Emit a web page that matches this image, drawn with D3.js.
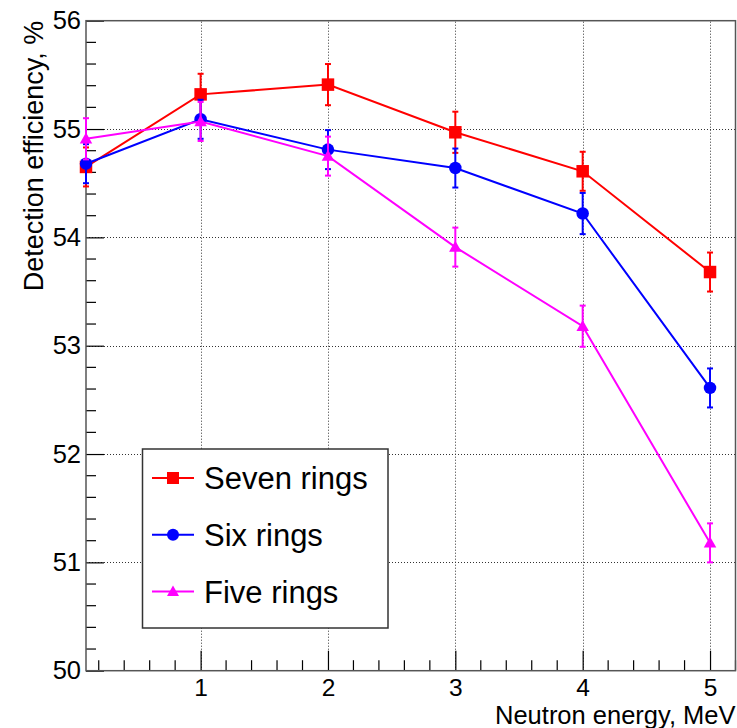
<!DOCTYPE html>
<html>
<head>
<meta charset="utf-8">
<script src="https://cdn.jsdelivr.net/npm/d3@7"></script>
<style>
  body { margin: 0; background: #fff; }
  svg { display: block; font-family: "Liberation Sans", Arial, sans-serif; }
</style>
</head>
<body>
<div id="chart"></div>
<script>
// neutron energies (MeV), first point sits at the left edge of the frame
const energies = [0.1, 1, 2, 3, 4, 5];

// detection efficiency, %
const sevenRings = [54.65, 55.32, 55.41, 54.97, 54.61, 53.68];
const sixRings = [54.68, 55.09, 54.81, 54.64, 54.22, 52.61];
const fiveRings = [54.91, 55.07, 54.75, 53.91, 53.18, 51.18];

// statistical errors
const sevenErr = [0.18, 0.19, 0.19, 0.19, 0.18, 0.18];
const sixErr = [0.18, 0.18, 0.18, 0.18, 0.19, 0.18];
const fiveErr = [0.19, 0.18, 0.18, 0.18, 0.19, 0.18];

const xTicks = [1, 2, 3, 4, 5];
const yTicks = [50, 51, 52, 53, 54, 55, 56];

const seriesNames = ['Seven rings', 'Six rings', 'Five rings'];
const seriesColors = ['#ff0000', '#0000ff', '#ff00ff'];
const seriesMarkers = ['square', 'circle', 'triangle'];

function drawChart(width, height) {
    const marginLeft = 86, marginRight = 1.5, marginTop = 20.7, marginBottom = 57.3;
    const x0 = marginLeft, x1 = width - marginRight;
    const y0 = height - marginBottom, y1 = marginTop;

    const xScale = d3.scaleLinear().domain([0.1, 5.2]).range([x0, x1]);
    const yScale = d3.scaleLinear().domain([50, 56]).range([y0, y1]);

    const svg = d3.select('#chart').append('svg')
        .attr('width', width)
        .attr('height', height)
        .attr('viewBox', [0, 0, width, height]);

    // dotted grid at the major ticks
    const grid = svg.append('g')
        .attr('stroke', '#333')
        .attr('stroke-width', 1)
        .attr('stroke-dasharray', '1,2');
    grid.selectAll('.gx').data(xTicks).join('line')
        .attr('x1', d => Math.round(xScale(d)) + 0.5).attr('x2', d => Math.round(xScale(d)) + 0.5)
        .attr('y1', y0).attr('y2', y1);
    grid.selectAll('.gy').data(yTicks.slice(1, -1)).join('line')
        .attr('class', 'gy')
        .attr('x1', x0).attr('x2', x1)
        .attr('y1', d => Math.round(yScale(d)) + 0.5).attr('y2', d => Math.round(yScale(d)) + 0.5);

    // x axis: major + minor ticks, labels
    const xMinor = d3.range(2, 53, 2).map(v => v / 10).filter(v => !xTicks.includes(v));
    const xAxis = d3.axisBottom(xScale).tickValues(xTicks).tickSize(-20).tickPadding(8).tickFormat(d3.format('d'));
    svg.append('g')
        .attr('transform', `translate(0,${y0})`)
        .call(xAxis)
        .call(g => g.select('.domain').remove())
        .call(g => g.selectAll('.tick line').attr('stroke', '#000').attr('stroke-width', 1.2))
        .call(g => g.selectAll('.tick text').attr('font-size', 24.5).attr('font-family', 'Liberation Sans').attr('fill', '#000'));
    svg.append('g')
        .selectAll('line').data(xMinor).join('line')
        .attr('x1', d => xScale(d)).attr('x2', d => xScale(d))
        .attr('y1', y0).attr('y2', y0 - 10.5)
        .attr('stroke', '#000').attr('stroke-width', 1.2);

    // y axis
    const yMinor = d3.range(500, 561, 2).map(v => v / 10).filter(v => !yTicks.includes(v));
    const yAxis = d3.axisLeft(yScale).tickValues(yTicks).tickSize(-18).tickFormat(d3.format('d'));
    svg.append('g')
        .attr('transform', `translate(${x0},0)`)
        .call(yAxis)
        .call(g => g.select('.domain').remove())
        .call(g => g.selectAll('.tick line').attr('stroke', '#000').attr('stroke-width', 1.2))
        .call(g => g.selectAll('.tick text')
            .attr('x', -5)
            .attr('font-size', 25.5).attr('font-family', 'Liberation Sans').attr('fill', '#000'));
    svg.append('g')
        .selectAll('line').data(yMinor).join('line')
        .attr('x1', x0).attr('x2', x0 + 10)
        .attr('y1', d => yScale(d)).attr('y2', d => yScale(d))
        .attr('stroke', '#000').attr('stroke-width', 1.2);

    // frame
    svg.append('rect')
        .attr('x', x0).attr('y', y1)
        .attr('width', x1 - x0).attr('height', y0 - y1)
        .attr('fill', 'none').attr('stroke', '#555').attr('stroke-width', 1.5);

    // axis titles
    svg.append('text')
        .attr('x', x1).attr('y', 724)
        .attr('text-anchor', 'end')
        .attr('font-size', 25.5)
        .text('Neutron energy, MeV');
    svg.append('text')
        .attr('transform', `translate(43,${y1}) rotate(-90)`)
        .attr('text-anchor', 'end')
        .attr('font-size', 27)
        .text('Detection efficiency, %');

    // series
    const allValues = [sevenRings, sixRings, fiveRings];
    const allErrors = [sevenErr, sixErr, fiveErr];
    const line = d3.line().x(d => xScale(d.x)).y(d => yScale(d.y));

    allValues.forEach((values, s) => {
        const pts = energies.map((e, i) => ({ x: e, y: values[i], err: allErrors[s][i] }));
        const color = seriesColors[s];
        const g = svg.append('g');

        g.append('path')
            .datum(pts)
            .attr('fill', 'none')
            .attr('stroke', color)
            .attr('stroke-width', 2)
            .attr('d', line);

        // error bars with small caps
        const eb = g.append('g').attr('stroke', color).attr('stroke-width', 2);
        eb.selectAll('.bar').data(pts).join('line')
            .attr('class', 'bar')
            .attr('x1', d => xScale(d.x)).attr('x2', d => xScale(d.x))
            .attr('y1', d => yScale(d.y - d.err)).attr('y2', d => yScale(d.y + d.err));
        eb.selectAll('.capTop').data(pts).join('line')
            .attr('class', 'capTop')
            .attr('x1', d => xScale(d.x) - 3).attr('x2', d => xScale(d.x) + 3)
            .attr('y1', d => yScale(d.y + d.err)).attr('y2', d => yScale(d.y + d.err));
        eb.selectAll('.capBot').data(pts).join('line')
            .attr('class', 'capBot')
            .attr('x1', d => xScale(d.x) - 3).attr('x2', d => xScale(d.x) + 3)
            .attr('y1', d => yScale(d.y - d.err)).attr('y2', d => yScale(d.y - d.err));

        g.selectAll('.marker').data(pts).join('path')
            .attr('class', 'marker')
            .attr('transform', d => `translate(${xScale(d.x)},${yScale(d.y)})`)
            .attr('fill', color)
            .attr('d', markerPath(seriesMarkers[s], 12.5));
    });

    // legend
    const legend = svg.append('g');
    legend.append('rect')
        .attr('x', 142.5).attr('y', 449)
        .attr('width', 245.5).attr('height', 179)
        .attr('fill', '#fff').attr('stroke', '#333').attr('stroke-width', 1.5);
    seriesNames.forEach((name, s) => {
        const cy = 478 + s * 56.8;
        legend.append('line')
            .attr('x1', 152).attr('x2', 194)
            .attr('y1', cy).attr('y2', cy)
            .attr('stroke', seriesColors[s]).attr('stroke-width', 2);
        legend.append('path')
            .attr('transform', `translate(173,${cy})`)
            .attr('fill', seriesColors[s])
            .attr('d', markerPath(seriesMarkers[s], 12));
        legend.append('text')
            .attr('x', 204).attr('y', cy)
            .attr('dy', '0.36em')
            .attr('font-size', 31)
            .text(name);
    });
}

function markerPath(kind, size) {
    const h = size / 2;
    if (kind === 'square') return `M${-h},${-h}H${h}V${h}H${-h}Z`;
    if (kind === 'circle') return d3.symbol(d3.symbolCircle, Math.PI * h * h)();
    // filled triangle pointing up, centred on the point
    return `M0,${-h}L${h},${h * 0.75}L${-h},${h * 0.75}Z`;
}

drawChart(737, 728);
</script>
</body>
</html>
